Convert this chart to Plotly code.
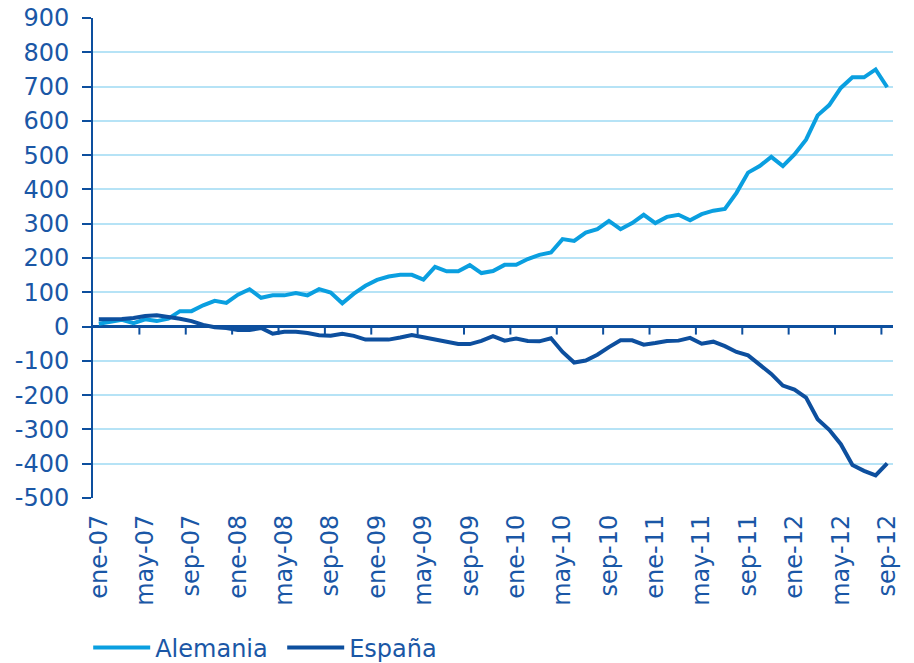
import plotly.graph_objects as go

# meses ene-07 .. sep-12
meses = ["ene", "feb", "mar", "abr", "may", "jun", "jul", "ago", "sep", "oct", "nov", "dic"]
categorias = [f"{m}-{a:02d}" for a in range(7, 13) for m in meses][:69]

alemania = [8, 14, 20, 10, 21, 16, 23, 45, 45, 62, 75, 69, 93, 109, 84, 91, 91, 98,
            91, 109, 99, 68, 96, 119, 136, 146, 151, 151, 137, 174, 161, 161, 179, 156,
            162, 180, 180, 197, 209, 216, 255, 250, 274, 284, 308, 284, 302, 326, 302,
            320, 326, 310, 328, 338, 343, 390, 449, 468, 495, 468, 502, 545, 616, 646,
            696, 727, 727, 750, 698]

espana = [21, 21, 22, 25, 31, 33, 29, 23, 16, 5, -2, -4, -10, -10, -4, -21, -15, -15,
          -19, -25, -27, -21, -27, -38, -38, -38, -32, -25, -31, -38, -44, -51, -51, -42,
          -28, -41, -35, -42, -43, -34, -74, -105, -99, -82, -60, -40, -40, -53, -48,
          -42, -41, -33, -50, -44, -57, -74, -84, -111, -138, -172, -184, -207, -270, -301,
          -343, -404, -421, -434, -399]

y_ticks = list(range(-500, 901, 100))
y_labels = [str(v) for v in y_ticks]  # guion corto, como en el original

azul_claro = "#0a9fe0"
azul_oscuro = "#0d4f9e"
texto = "#1a57a6"
rejilla = "#b6e3f6"

# la pagina deja 8px de margen al div, asi que la figura es 8px mas pequeña
ancho, alto = 906, 655
m_izq, m_der, m_sup, m_inf = 85, 21, 10, 165

y_min, y_max = -500, 900
marca = 8 * (y_max - y_min) / (alto - m_sup - m_inf)  # 8 px en unidades del eje

idx = list(range(len(categorias)))

fig = go.Figure()
fig.add_trace(go.Scatter(x=idx, y=alemania, name="Alemania", mode="lines",
                         line=dict(color=azul_claro, width=4)))
fig.add_trace(go.Scatter(x=idx, y=espana, name="España", mode="lines",
                         line=dict(color=azul_oscuro, width=4)))

# marcas del eje de categorias (entre grupos de 4 meses), colgando de la linea del cero
for k in range(4, len(categorias), 4):
    fig.add_shape(type="line", xref="x", yref="y",
                  x0=k - 0.5, x1=k - 0.5, y0=0, y1=-marca,
                  line=dict(color=azul_oscuro, width=2))

fig.update_layout(
    width=ancho, height=alto,
    margin=dict(l=m_izq, r=m_der, t=m_sup, b=m_inf, autoexpand=False),
    paper_bgcolor="white", plot_bgcolor="white",
    font=dict(family="DejaVu Sans", size=24, color=texto),
    showlegend=True,
    legend=dict(orientation="h", x=-0.006, xanchor="left",
                yref="container", y=0.0229, yanchor="middle",
                font=dict(size=24, color=texto), entrywidth=122, itemwidth=57,
                bgcolor="rgba(0,0,0,0)"),
)

fig.update_xaxes(
    range=[-0.5, len(categorias) - 0.5],
    tickvals=idx[::4], ticktext=categorias[::4],
    tickangle=-90, ticks="", showgrid=False, showline=False, zeroline=False,
    ticklabelstandoff=11, automargin=False, ticklabeloverflow="allow",
    tickfont=dict(size=24, color=texto),
)

fig.update_yaxes(
    range=[y_min, y_max], tickvals=y_ticks, ticktext=y_labels,
    showgrid=True, gridcolor=rejilla, gridwidth=2,
    zeroline=True, zerolinecolor=azul_oscuro, zerolinewidth=2.5,
    showline=True, linecolor=azul_oscuro, linewidth=2,
    ticks="outside", ticklen=9, tickwidth=2, tickcolor=azul_oscuro,
    ticklabelstandoff=8, automargin=False, ticklabeloverflow="allow",
    tickfont=dict(size=24, color=texto),
)

fig.write_html("out.html")
